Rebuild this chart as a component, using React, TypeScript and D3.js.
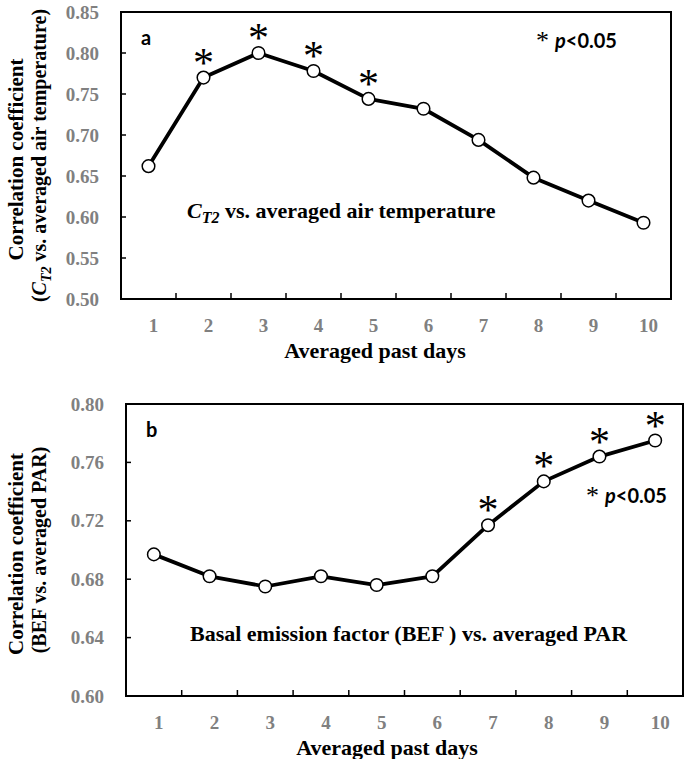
import React from 'react';
import * as d3 from 'd3';

// categories: averaged past days
const days = ['1', '2', '3', '4', '5', '6', '7', '8', '9', '10'];

// panel a: C_T2 vs. averaged air temperature
const airTempR = [0.662, 0.770, 0.800, 0.778, 0.744, 0.732, 0.694, 0.648, 0.620, 0.593];
const airTempSig = ['2', '3', '4', '5'];
const airTempTicks = [0.5, 0.55, 0.6, 0.65, 0.7, 0.75, 0.8, 0.85];

// panel b: BEF vs. averaged PAR
const parR = [0.697, 0.682, 0.675, 0.682, 0.676, 0.682, 0.717, 0.747, 0.764, 0.775];
const parSig = ['7', '8', '9', '10'];
const parTicks = [0.6, 0.64, 0.68, 0.72, 0.76, 0.8];

const SERIF = '"Liberation Serif", "Times New Roman", serif';
const SANS = 'Lato, "Liberation Sans", sans-serif';
const GREY = '#808080';

type PanelProps = {
  left: number;
  right: number;
  top: number;
  bottom: number;
  values: number[];
  sig: string[];
  ticks: number[];
  letter: string;
  yLabel2: React.ReactNode;
  note: React.ReactNode;
  noteX: number;
  noteY: number;
  pX: number;
  pY: number;
  titleX: number;
};

function Panel(p: PanelProps) {
  const x = d3.scaleBand<string>().domain(days).range([p.left, p.right]).padding(0);
  const y = d3.scaleLinear()
    .domain([p.ticks[0], p.ticks[p.ticks.length - 1]])
    .range([p.bottom, p.top]);
  const cx = (d: string) => (x(d) as number) + x.bandwidth() / 2;

  const pts = days.map((d, i) => ({ d, v: p.values[i] }));
  const line = d3.line<{ d: string; v: number }>()
    .x(o => cx(o.d))
    .y(o => y(o.v));

  const midY = (p.top + p.bottom) / 2;

  return (
    <g>
      {/* inside ticks */}
      {days.slice(1).map(d => (
        <line key={'xt' + d} x1={x(d)} x2={x(d)} y1={p.bottom} y2={p.bottom - 6}
          stroke="#000" strokeWidth={1.5} />
      ))}
      {p.ticks.slice(1, -1).map(t => (
        <line key={'yt' + t} x1={p.left} x2={p.left + 5} y1={y(t)} y2={y(t)}
          stroke="#000" strokeWidth={1.5} />
      ))}
      <rect x={p.left} y={p.top} width={p.right - p.left} height={p.bottom - p.top}
        fill="none" stroke="#000" strokeWidth={2} />

      {/* tick labels */}
      {p.ticks.map(t => (
        <text key={'yl' + t} x={p.left - 22} y={y(t)} dy="0.35em" textAnchor="end"
          fontFamily={SERIF} fontWeight="bold" fontSize={19} fill={GREY}>
          {t.toFixed(2)}
        </text>
      ))}
      {days.map(d => (
        <text key={'xl' + d} x={cx(d) + 5} y={p.bottom + 26} dy="0.35em" textAnchor="middle"
          fontFamily={SERIF} fontWeight="bold" fontSize={19} fill={GREY}>
          {d}
        </text>
      ))}

      {/* axis titles */}
      <text x={p.titleX} y={p.bottom + 51} dy="0.35em" textAnchor="middle"
        fontFamily={SERIF} fontWeight="bold" fontSize={22}>
        Averaged past days
      </text>
      <g transform={`translate(16,${midY + 4}) rotate(-90)`}>
        <text x={0} y={0} dy="0.35em" textAnchor="middle"
          fontFamily={SERIF} fontWeight="bold" fontSize={21}>
          Correlation coefficient
        </text>
      </g>
      <g transform={`translate(39,${midY}) rotate(-90)`}>
        <text x={0} y={0} dy="0.35em" textAnchor="middle"
          fontFamily={SERIF} fontWeight="bold" fontSize={20}>
          {p.yLabel2}
        </text>
      </g>

      {/* series */}
      <path d={line(pts) ?? ''} fill="none" stroke="#000" strokeWidth={3.8} strokeLinejoin="round" />
      {pts.map(o => (
        <circle key={'c' + o.d} cx={cx(o.d)} cy={y(o.v)} r={6.3}
          fill="#fff" stroke="#000" strokeWidth={1.5} />
      ))}
      {pts.filter(o => p.sig.includes(o.d)).map(o => (
        <text key={'s' + o.d} x={cx(o.d)} y={y(o.v) - 1} textAnchor="middle"
          fontFamily={SERIF} fontSize={42}>
          *
        </text>
      ))}

      {/* annotations */}
      <text x={p.left + 20} y={p.top + 26} dy="0.35em" fontFamily={SANS} fontWeight="bold" fontSize={20}>
        {p.letter}
      </text>
      <text x={p.pX} y={p.pY} dy="0.35em" fontFamily={SANS} fontWeight="bold" fontSize={20}>
        <tspan fontFamily={SERIF} fontWeight="normal" fontSize={26} dy="0.35em">*</tspan>
        <tspan fontStyle="italic" dy="-0.05em" dx="6">p</tspan>
        <tspan>{'<0.05'}</tspan>
      </text>
      <text x={p.noteX} y={p.noteY} dy="0.35em" fontFamily={SERIF} fontWeight="bold" fontSize={22}>
        {p.note}
      </text>
    </g>
  );
}

export default function App() {
  return (
    <svg width={685} height={759} viewBox="0 0 685 759"
      style={{ position: 'absolute', left: 0, top: 0, background: '#fff' }}>
      <Panel
        left={121} right={671} top={12} bottom={299}
        values={airTempR} sig={airTempSig} ticks={airTempTicks}
        letter="a"
        yLabel2={<>
          (<tspan fontStyle="italic">C</tspan>
          <tspan fontStyle="italic" fontSize={14} dy="5">T2</tspan>
          <tspan dy="-5"> vs. averaged air temperature)</tspan>
        </>}
        note={<>
          <tspan fontStyle="italic">C</tspan>
          <tspan fontStyle="italic" fontSize={16} dy="5">T2</tspan>
          <tspan dy="-5"> vs. averaged air temperature</tspan>
        </>}
        noteX={187} noteY={210}
        pX={536} pY={40}
        titleX={375}
      />
      <Panel
        left={126} right={683} top={404} bottom={696}
        values={parR} sig={parSig} ticks={parTicks}
        letter="b"
        yLabel2="(BEF vs. averaged PAR)"
        note="Basal emission factor (BEF ) vs. averaged PAR"
        noteX={190} noteY={633}
        pX={586} pY={495}
        titleX={387}
      />
    </svg>
  );
}
